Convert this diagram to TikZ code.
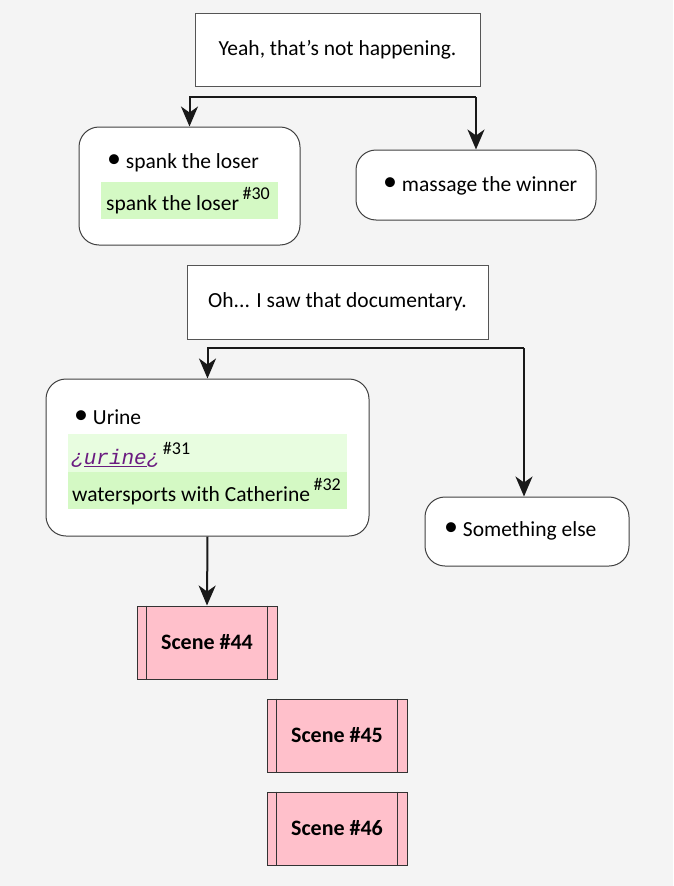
\documentclass[tikz,border=0pt]{standalone}
\usepackage{fontspec}
\setmainfont{Carlito}
\newfontfamily\monof{Liberation Mono}
\usetikzlibrary{arrows.meta}
\definecolor{bgc}{HTML}{F4F4F4}
\definecolor{bordc}{HTML}{555555}
\definecolor{gdark}{HTML}{D4F9C4}
\definecolor{glight}{HTML}{E8FDE0}
\definecolor{purp}{HTML}{6A1B80}
\definecolor{pinkc}{HTML}{FFC0CB}
\tikzset{
  sqbox/.style={draw=bordc, line width=1pt, fill=white, inner sep=0pt, font=\fontsize{21.5}{24}\selectfont},
  rbox/.style={draw=black!75, line width=1pt, fill=white, rounded corners=20pt, inner sep=0pt},
  txt/.style={inner sep=0pt, anchor=west, font=\fontsize{21.5}{24}\selectfont},
  scenebox/.style={draw=black!80, line width=1pt, fill=pinkc, minimum width=140pt, minimum height=73pt, inner sep=0pt, font=\bfseries\fontsize{22}{24}\selectfont},
  arr/.style={line width=2pt, draw=black!90, -{Stealth[length=20pt, width=17pt, inset=6pt]}},
}
\newcommand{\sidelines}[1]{%
  \draw[black!80, line width=1pt] ([xshift=10pt]#1.north west) -- ([xshift=10pt]#1.south west);
  \draw[black!80, line width=1pt] ([xshift=-10pt]#1.north east) -- ([xshift=-10pt]#1.south east);}
\newcommand{\bul}{\raisebox{0.12ex}{\scalebox{1.3}{\textbullet}}\ }
\newcommand{\sups}[1]{\,\raisebox{1.05ex}{\fontsize{18}{19}\selectfont\##1}}
\begin{document}
\begin{tikzpicture}[x=1pt,y=-1pt]
\fill[bgc] (0,0) rectangle (673,886);
\useasboundingbox (0,0) rectangle (673,886);

% first question
\node[sqbox, minimum width=285pt, minimum height=73pt] (q1) at (337.5,49.5) {Yeah, that's not happening.};
\node[rbox, minimum width=221pt, minimum height=118pt] (spank) at (189.5,186) {};
\node[rbox, minimum width=240pt, minimum height=70pt] (massage) at (476,185) {};
\node[txt] (spankb) at (107,163) {\bul spank the loser};
\fill[gdark] (101,182) rectangle (278,219);
\node[txt] (spankg) at (106,201) {spank the loser\sups{30}};
\node[txt] (massb) at (383,186) {\bul massage the winner};

\coordinate (j1) at (476,97);
\draw[arr] (j1) -| (spank.north);
\draw[arr] (j1) -- (massage.north);

% second question
\node[sqbox, minimum width=301pt, minimum height=74pt] (q2) at (337.5,302) {Oh... I saw that documentary.};
\node[rbox, minimum width=323pt, minimum height=157pt] (urine) at (207.5,457.5) {};
\node[rbox, minimum width=204pt, minimum height=69pt] (other) at (527,531.5) {};
\node[txt] (urineb) at (74,417) {\bul Urine};
\fill[glight] (68,434) rectangle (347,472);
\fill[gdark] (68,472) rectangle (347,509);
\node[txt, text=purp] (urinem) at (71,455) {{\monof\itshape\fontsize{21}{22}\selectfont ¿\underline{urine}¿}\color{black}\sups{31}};
\node[txt] (urinew) at (72,492) {watersports with Catherine\sups{32}};
\node[txt] (otherb) at (444,531) {\bul Something else};

\coordinate (j2) at (524,348);
\draw[arr] (j2) -| (urine.north);
\draw[arr] (j2) -- (j2 |- other.north);

% scenes
\node[scenebox] (s44) at (207,642.5) {Scene \#44};
\node[scenebox] (s45) at (337,735.5) {Scene \#45};
\node[scenebox] (s46) at (337,828.5) {Scene \#46};
\sidelines{s44}
\sidelines{s45}
\sidelines{s46}
\draw[arr] (urine.south) -- (s44.north);
\end{tikzpicture}
\end{document}
